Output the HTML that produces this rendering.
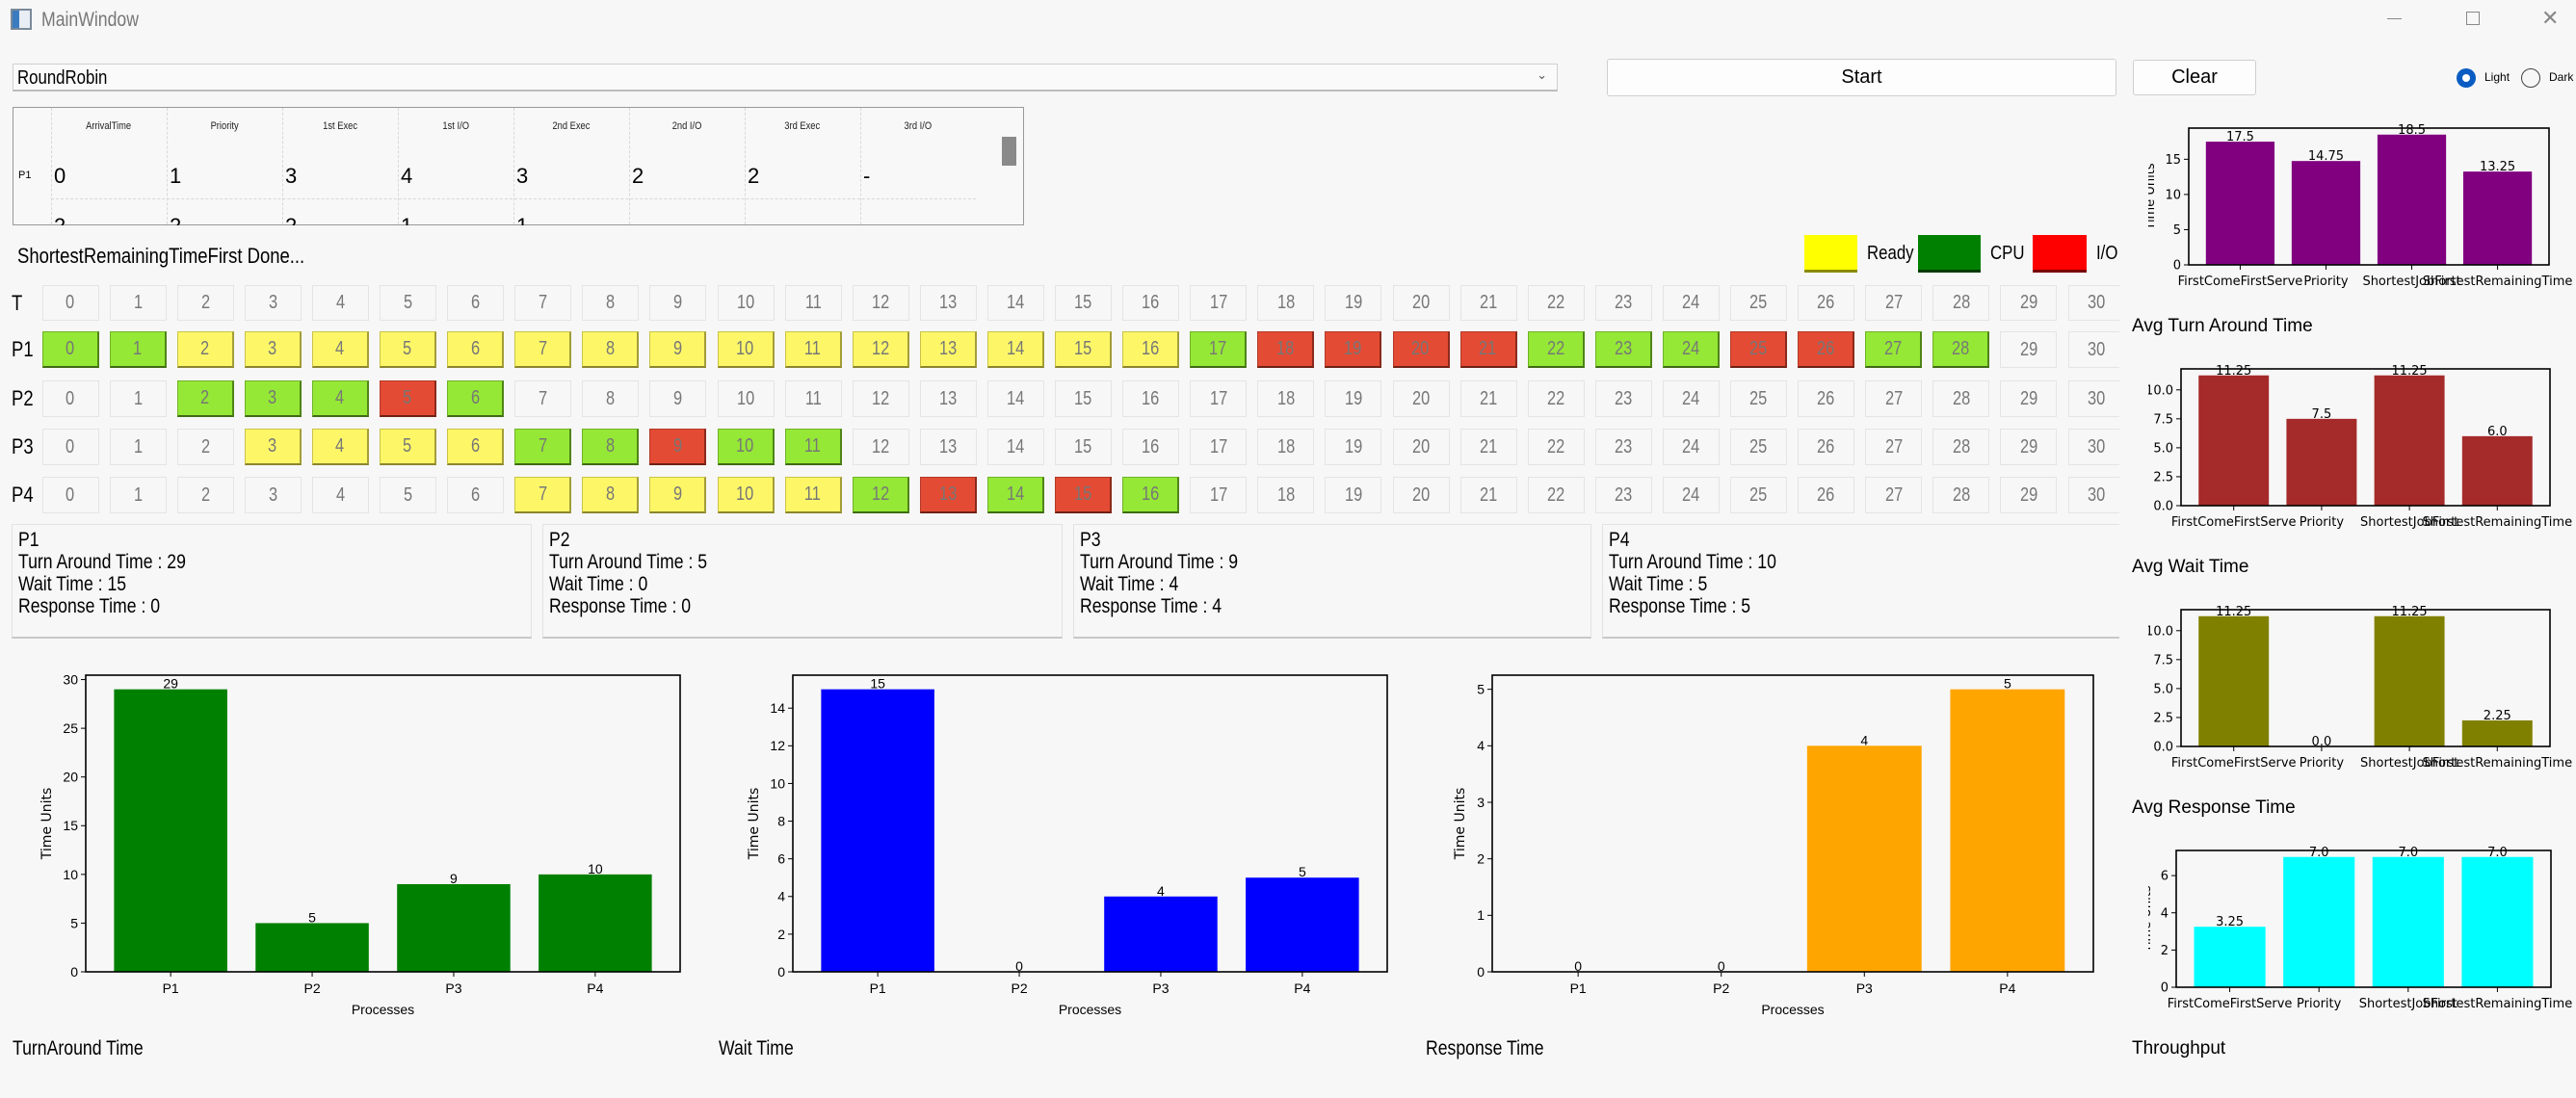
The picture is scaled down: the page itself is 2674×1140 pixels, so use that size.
<!DOCTYPE html>
<html><head><meta charset="utf-8">
<style>
*{box-sizing:border-box;margin:0;padding:0}
body{width:2674px;height:1140px;background:#f7f7f7;position:relative;overflow:hidden;font-family:"Liberation Sans",sans-serif;color:#000}
.abs{position:absolute}
.nx{display:inline-block;transform:scaleX(0.84);transform-origin:left center;white-space:nowrap}
.cell{position:absolute;width:59px;height:38px;border:1px solid #e4e4e4;background:#f7f7f7;color:#777;font-size:20px;display:flex;align-items:center;justify-content:center}
.cell span{display:inline-block;transform:scaleX(0.82)}
.cell.Y{background:#fdf768;border:1px solid #c9c24a;border-bottom:2px solid #8a8530;border-right:2px solid #a39d3a}
.cell.C{background:#95e836;border:1px solid #6fb228;border-bottom:2px solid #3f6a14;border-right:2px solid #4f8418}
.cell.R{background:#e44b34;border:1px solid #b23a28;border-bottom:2px solid #6e2115;border-right:2px solid #8a2a1b}
.rowlab{position:absolute;left:12px;font-size:22px;width:30px}
.panel{position:absolute;top:544px;height:119px;border:1px solid #e2e2e2;border-bottom:2px solid #c8c8c8;font-size:21px;line-height:23px;padding:4px 6px;overflow:hidden}
.btn{position:absolute;border:1px solid #cfcfcf;border-radius:3px;background:#fdfdfd;font-size:20px;display:flex;align-items:center;justify-content:center}
.th{position:absolute;top:125px;font-size:11px;color:#222;width:120px;text-align:center}
.td{position:absolute;top:170px;font-size:22px}
.btm{position:absolute;font-size:21px}
</style></head>
<body>
<div class="abs" style="left:11px;top:9px;width:22px;height:22px;border:2px solid #7a8a9a;background:linear-gradient(90deg,#3b7bbf 40%,#e8eef4 40%)"></div>
<div class="abs" style="left:43px;top:9px;font-size:21px;color:#777"><span class="nx">MainWindow</span></div>
<div class="abs" style="left:2478px;top:19px;width:15px;height:1px;background:#888"></div>
<div class="abs" style="left:2560px;top:12px;width:14px;height:14px;border:1px solid #888"></div>
<div class="abs" style="left:2638px;top:6px;font-size:22px;color:#888">✕</div>

<div class="abs" style="left:13px;top:66px;width:1604px;height:29px;border:1px solid #d0d0d0;border-bottom:2px solid #bcbcbc;background:#fafafa;font-size:20px;padding:3px 4px"><span class="nx">RoundRobin</span><span style="position:absolute;right:10px;top:3px;font-size:13px;color:#555">&#8964;</span></div>
<div class="btn" style="left:1668px;top:61px;width:529px;height:39px">Start</div>
<div class="btn" style="left:2214px;top:62px;width:128px;height:37px">Clear</div>
<div class="abs" style="left:2550px;top:71px;width:20px;height:20px;border-radius:50%;background:#0a5cc2;"><div style="position:absolute;left:6px;top:6px;width:8px;height:8px;border-radius:50%;background:#fff"></div></div>
<div class="abs" style="left:2579px;top:73px;font-size:12px">Light</div>
<div class="abs" style="left:2617px;top:71px;width:20px;height:20px;border-radius:50%;border:1px solid #444"></div>
<div class="abs" style="left:2646px;top:73px;font-size:12px">Dark</div>

<div class="abs" style="left:13px;top:111px;width:1050px;height:123px;border:1px solid #999;overflow:hidden;background:#f8f8f8"></div>
<div id="tbl"></div>

<div class="abs" style="left:18px;top:253px;font-size:22px"><span class="nx">ShortestRemainingTimeFirst Done...</span></div>

<div class="abs" style="left:1873px;top:244px;width:55px;height:39px;background:#ffff00;border-bottom:3px solid #8a8a00"></div>
<div class="abs" style="left:1938px;top:252px;font-size:20px"><span class="nx">Ready</span></div>
<div class="abs" style="left:1991px;top:244px;width:65px;height:39px;background:#008000;border-bottom:3px solid #003a00"></div>
<div class="abs" style="left:2066px;top:252px;font-size:20px"><span class="nx">CPU</span></div>
<div class="abs" style="left:2110px;top:244px;width:56px;height:39px;background:#ff0000;border-bottom:3px solid #7a0000"></div>
<div class="abs" style="left:2176px;top:252px;font-size:20px"><span class="nx">I/O</span></div>

<div id="gantt"></div>

<div class="panel" style="left:12px;width:540px"><span class="nx">P1<br>Turn Around Time : 29<br>Wait Time : 15<br>Response Time : 0</span></div>
<div class="panel" style="left:563px;width:540px"><span class="nx">P2<br>Turn Around Time : 5<br>Wait Time : 0<br>Response Time : 0</span></div>
<div class="panel" style="left:1114px;width:538px"><span class="nx">P3<br>Turn Around Time : 9<br>Wait Time : 4<br>Response Time : 4</span></div>
<div class="panel" style="left:1663px;width:540px"><span class="nx">P4<br>Turn Around Time : 10<br>Wait Time : 5<br>Response Time : 5</span></div>

<svg id="charts" width="2674" height="1140" style="position:absolute;left:0;top:0"></svg>

<div class="btm" style="left:13px;top:1077px"><span class="nx">TurnAround Time</span></div>
<div class="btm" style="left:746px;top:1077px"><span class="nx">Wait Time</span></div>
<div class="btm" style="left:1480px;top:1077px"><span class="nx">Response Time</span></div>
<div class="btm" style="left:2213px;top:328px;font-size:19px">Avg Turn Around Time</div>
<div class="btm" style="left:2213px;top:578px;font-size:19px">Avg Wait Time</div>
<div class="btm" style="left:2213px;top:828px;font-size:19px">Avg Response Time</div>
<div class="btm" style="left:2213px;top:1078px;font-size:19px">Throughput</div>

<script>
const tableHeaders=['ArrivalTime','Priority','1st Exec','1st I/O','2nd Exec','2nd I/O','3rd Exec','3rd I/O'];
const p1Row=['0','1','3','4','3','2','2','-'];
const p2Row=['2','2','2','1','1','','',''];
const ganttTimes=[...Array(31).keys()];
const ganttP1=['C','C','Y','Y','Y','Y','Y','Y','Y','Y','Y','Y','Y','Y','Y','Y','Y','C','R','R','R','R','C','C','C','R','R','C','C','',''];
const ganttP2=['','','C','C','C','R','C','','','','','','','','','','','','','','','','','','','','','','','',''];
const ganttP3=['','','','Y','Y','Y','Y','C','C','R','C','C','','','','','','','','','','','','','','','','','','',''];
const ganttP4=['','','','','','','','Y','Y','Y','Y','Y','C','R','C','R','C','','','','','','','','','','','','','',''];
const processes=['P1','P2','P3','P4'];
const tatValues=[29,5,9,10];
const waitValues=[15,0,4,5];
const respValues=[0,0,4,5];
const tatTicks=[0,5,10,15,20,25,30];
const waitTicks=[0,2,4,6,8,10,12,14];
const respTicks=[0,1,2,3,4,5];
const algorithms=['FirstComeFirstServe','Priority','ShortestJobFirst','ShortestRemainingTime'];
const avgPurpleValues=[17.5,14.75,18.5,13.25];
const avgTatValues=[11.25,7.5,11.25,6.0];
const avgWaitValues=[11.25,0,11.25,2.25];
const avgRespValues=[3.25,7,7,7];
const avgPurpleTicks=[0,5,10,15];
const avgTatTicks=[0,2.5,5,7.5,10];
const avgWaitTicks=[0,2.5,5,7.5,10];
const avgRespTicks=[0,2,4,6];

const tbl=document.getElementById('tbl');
tableHeaders.forEach((h,i)=>{
  const d=document.createElement('div');d.className='th';
  d.style.left=(53+i*120)+'px';d.innerHTML='<span style="display:inline-block;transform:scaleX(0.85)">'+h+'</span>';
  
  
  tbl.appendChild(d);
  const v=document.createElement('div');v.className='td';
  v.style.left=(56+i*120)+'px';v.textContent=p1Row[i];
  
  
  tbl.appendChild(v);
  const v2=document.createElement('div');v2.className='td';
  v2.style.left=(56+i*120)+'px';v2.style.top='224px';v2.style.height='10px';v2.style.overflow='hidden';v2.style.lineHeight='22px';v2.textContent=p2Row[i];
  
  
  tbl.appendChild(v2);
  const ln=document.createElement('div');ln.className='abs';
  ln.style.cssText='left:'+(53+i*120)+'px;top:112px;height:121px;border-left:1px dashed #d8d8d8';
  
  
  tbl.appendChild(ln);
});
(function(){
  const e=document.createElement('div');e.className='abs';
  e.style.cssText='left:53px;top:206px;width:960px;border-top:1px dashed #d8d8d8';
  
  
  tbl.appendChild(e);
  const r=document.createElement('div');r.className='abs';
  r.style.cssText='left:19px;top:176px;font-size:11px';r.textContent='P1';
  
  
  tbl.appendChild(r);
  const s=document.createElement('div');s.className='abs';
  s.style.cssText='left:1040px;top:142px;width:15px;height:30px;background:#8a8a8a';
  
  
  tbl.appendChild(s);
})();

const g=document.getElementById('gantt');
const rows=[['T',null,296],['P1',ganttP1,344],['P2',ganttP2,395],['P3',ganttP3,445],['P4',ganttP4,495]];
rows.forEach(([lab,st,top])=>{
  const l=document.createElement('div');l.className='rowlab';
  l.style.top=(top+6)+'px';l.innerHTML='<span class="nx">'+lab+'</span>';
  
  
  g.appendChild(l);
  ganttTimes.forEach((t,i)=>{
    const c=document.createElement('div');
    const s=st?st[i]:'';
    c.className='cell '+s;
    c.style.left=(43.5+i*70.1)+'px';c.style.top=top+'px';
    if(lab==='T'){c.style.height='37px';}
    c.innerHTML='<span>'+t+'</span>';
    
    
    g.appendChild(c);
  });
});

const NS='http://www.w3.org/2000/svg';
const svg=document.getElementById('charts');
function mk(tag,attrs,parent,text){const e=document.createElementNS(NS,tag);for(const k in attrs)e.setAttribute(k,attrs[k]);if(text!==undefined)e.textContent=text;(parent||svg).appendChild(e);return e;}
function barChart(o){
  const grp=mk('g',{});
  
  
  const ymax=Math.max(...o.vals)*1.05;
  const xs=i=>o.x+(i+0.6)*o.w/4.2;
  const ys=v=>o.y+o.h-v/ymax*o.h;
  const bw=0.8*o.w/4.2;
  o.vals.forEach((v,i)=>{
    const r=mk('rect',{x:xs(i)-bw/2,y:ys(v),width:bw,height:o.y+o.h-ys(v),fill:o.color},grp);
    
    
    const t=mk('text',{x:xs(i),y:ys(v)-1,'text-anchor':'middle','font-size':o.vfs,'font-family':o.font,fill:'#000'},grp,o.fmt(v));
    
    
  });
  mk('rect',{x:o.x,y:o.y,width:o.w,height:o.h,fill:'none',stroke:'#000','stroke-width':1.6},grp);
  o.ticks.forEach(v=>{
    if(v>ymax)return;
    mk('line',{x1:o.x-5,x2:o.x,y1:ys(v),y2:ys(v),stroke:'#000'},grp);
    const t=mk('text',{x:o.x-8,y:ys(v)+o.tfs*0.35,'text-anchor':'end','font-size':o.tfs,'font-family':o.font},grp,o.tfmt(v));
    
    
  });
  o.cats.forEach((c,i)=>{
    mk('line',{x1:xs(i),x2:xs(i),y1:o.y+o.h,y2:o.y+o.h+5,stroke:'#000'},grp);
    const t=mk('text',{x:xs(i),y:o.y+o.h+o.tfs+8,'text-anchor':'middle','font-size':o.tfs,'font-family':o.font},grp,c);
    
    
  });
  if(o.xlabel){const t=mk('text',{x:o.x+o.w/2,y:o.y+o.h+44,'text-anchor':'middle','font-size':o.tfs,'font-family':o.font},grp,o.xlabel);
    }
  if(o.ylabel){const t=mk('text',{x:0,y:0,transform:'translate('+o.ylx+','+(o.y+o.h/2)+') rotate(-90)','text-anchor':'middle','font-size':o.yfs,'font-family':'DejaVu Sans, sans-serif'},grp,o.ylabel);
    }
}
const nar='"Liberation Sans",sans-serif';
const dv='"DejaVu Sans",sans-serif';
const intf=v=>String(v);
const f1=v=>Number.isInteger(v)?v.toFixed(1):String(v);
barChart({name:'turnaround-chart',x:89,y:701,w:617,h:308,cats:processes,vals:tatValues,ticks:tatTicks,color:'#008000',fmt:intf,tfmt:intf,font:nar,tfs:14,vfs:14,xlabel:'Processes',ylabel:'Time Units',ylx:53,yfs:14});
barChart({name:'wait-chart',x:823,y:701,w:617,h:308,cats:processes,vals:waitValues,ticks:waitTicks,color:'#0000ff',fmt:intf,tfmt:intf,font:nar,tfs:14,vfs:14,xlabel:'Processes',ylabel:'Time Units',ylx:787,yfs:14});
barChart({name:'response-chart',x:1549,y:701,w:624,h:308,cats:processes,vals:respValues,ticks:respTicks,color:'#ffa500',fmt:intf,tfmt:intf,font:nar,tfs:14,vfs:14,xlabel:'Processes',ylabel:'Time Units',ylx:1520,yfs:14});
barChart({name:'avg-purple-chart',x:2272,y:133,w:374,h:142,cats:algorithms,vals:avgPurpleValues,ticks:avgPurpleTicks,color:'#800080',fmt:f1,tfmt:intf,font:dv,tfs:13,vfs:13,ylabel:'Time Units',ylx:2236,yfs:13});
barChart({name:'avg-tat-chart',x:2264,y:383,w:383,h:142,cats:algorithms,vals:avgTatValues,ticks:avgTatTicks,color:'#a52a2a',fmt:f1,tfmt:v=>v.toFixed(1),font:dv,tfs:13,vfs:13});
barChart({name:'avg-wait-chart',x:2264,y:633,w:383,h:142,cats:algorithms,vals:avgWaitValues,ticks:avgWaitTicks,color:'#808000',fmt:f1,tfmt:v=>v.toFixed(1),font:dv,tfs:13,vfs:13});
barChart({name:'avg-response-chart',x:2259,y:883,w:389,h:142,cats:algorithms,vals:avgRespValues,ticks:avgRespTicks,color:'#00ffff',fmt:f1,tfmt:intf,font:dv,tfs:13,vfs:13,ylabel:'Time Units',ylx:2232,yfs:13});
const cv=mk('rect',{x:2200,y:120,width:30,height:920,fill:'#f7f7f7'});


</script>
</body></html>
